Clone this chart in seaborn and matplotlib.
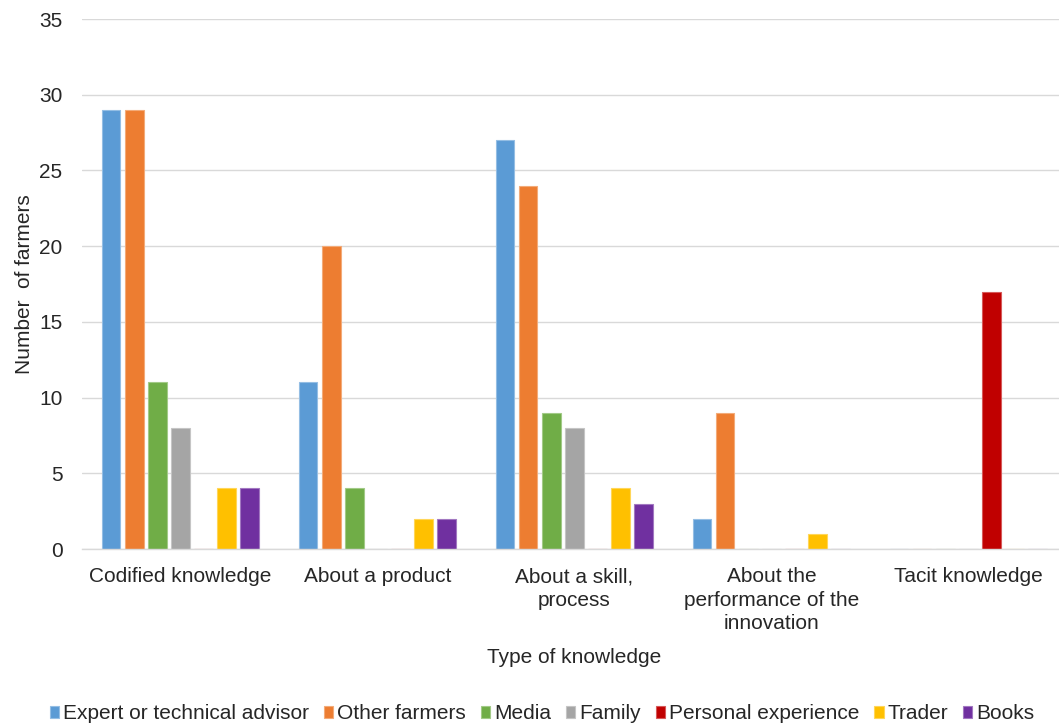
import matplotlib
matplotlib.use("Agg")
import matplotlib.pyplot as plt
import seaborn as sns
import pandas as pd

categories = [
    "Codified knowledge",
    "About a product",
    "About a skill,\nprocess",
    "About the\nperformance of the\ninnovation",
    "Tacit knowledge",
]
sources = [
    "Expert or technical advisor",
    "Other farmers",
    "Media",
    "Family",
    "Personal experience",
    "Trader",
    "Books",
]
expert = [29, 11, 27, 2, 0]
other_farmers = [29, 20, 24, 9, 0]
media = [11, 4, 9, 0, 0]
family = [8, 0, 8, 0, 0]
personal = [0, 0, 0, 0, 17]
trader = [4, 2, 4, 1, 0]
books = [4, 2, 3, 0, 0]
colors = ["#5B9BD5", "#ED7D31", "#70AD47", "#A5A5A5", "#C00000", "#FFC000", "#7030A0"]

series = [expert, other_farmers, media, family, personal, trader, books]
rows = []
for src, vals in zip(sources, series):
    for cat, v in zip(categories, vals):
        rows.append({"category": cat, "source": src, "farmers": v})
df = pd.DataFrame(rows)

sns.set_theme(style="white")
plt.rcParams["font.family"] = ["Liberation Sans", "DejaVu Sans"]

FS = 15
TXT = "#262626"

fig = plt.figure(figsize=(10.59, 7.24), dpi=100)
ax = fig.add_axes([0.0774, 0.2417, 0.93, 0.732])

sns.barplot(
    data=df, x="category", y="farmers", hue="source",
    order=categories, hue_order=sources, palette=colors,
    width=0.82, gap=0.2, ax=ax, legend=True, saturation=1,
)

# thin lighter outline on each bar
for patch in ax.patches:
    fc = patch.get_facecolor()
    light = tuple(min(1, c + (1 - c) * 0.35) for c in fc[:3])
    patch.set_edgecolor(light)
    patch.set_linewidth(0.8)

ax.set_ylim(0, 35)
ax.set_yticks(range(0, 36, 5))
ax.set_xlim(-0.5, 4.5)
ax.yaxis.grid(True, color="#D9D9D9", linewidth=1)
ax.set_axisbelow(True)
for s in ["top", "right", "left"]:
    ax.spines[s].set_visible(False)
ax.spines["bottom"].set_color("#D9D9D9")
ax.spines["bottom"].set_linewidth(1)
ax.tick_params(axis="both", length=0, labelsize=FS, colors=TXT)
ax.tick_params(axis="y", pad=14)
ax.tick_params(axis="x", pad=13)
for lbl in ax.get_xticklabels():
    lbl.set_linespacing(1.3)

ax.set_xlabel("Type of knowledge", fontsize=FS, color=TXT, labelpad=11)
ax.set_ylabel("Number  of farmers", fontsize=FS, color=TXT, labelpad=4)

handles, labels = ax.get_legend_handles_labels()
ax.legend_.remove()
fig.legend(
    handles, labels, loc="lower center", bbox_to_anchor=(0.512, -0.025),
    ncol=7, frameon=False, fontsize=FS, handlelength=0.45, handleheight=0.55,
    handletextpad=0.2, columnspacing=0.7, labelcolor=TXT,
)

fig.savefig("out.png", dpi=100)
